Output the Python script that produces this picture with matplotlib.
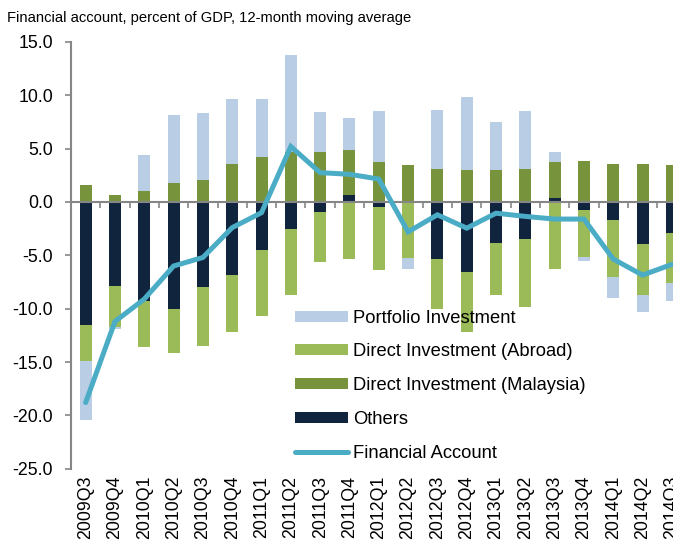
import numpy as np
import matplotlib.pyplot as plt

plt.rcParams['font.family'] = ['Liberation Sans', 'DejaVu Sans']

quarters = ['2009Q3', '2009Q4', '2010Q1', '2010Q2', '2010Q3', '2010Q4', '2011Q1',
            '2011Q2', '2011Q3', '2011Q4', '2012Q1', '2012Q2', '2012Q3', '2012Q4',
            '2013Q1', '2013Q2', '2013Q3', '2013Q4', '2014Q1', '2014Q2', '2014Q3']

others = [-11.5, -7.9, -9.3, -10.0, -8.0, -6.8, -4.5, -2.5, -0.9, 0.7, -0.5,
          0.0, -5.3, -6.6, -3.8, -3.5, 0.4, -0.75, -1.7, -3.9, -2.9]
di_malaysia = [1.6, 0.7, 1.05, 1.8, 2.1, 3.6, 4.25, 4.7, 4.7, 4.2, 3.75,
               3.5, 3.1, 3.0, 3.0, 3.1, 3.35, 3.85, 3.55, 3.6, 3.45]
di_abroad = [-3.4, -3.8, -4.3, -4.2, -5.5, -5.35, -6.2, -6.2, -4.7, -5.3, -5.9,
             -5.25, -4.7, -5.6, -4.95, -6.35, -6.25, -4.45, -5.3, -4.85, -4.7]
portfolio = [-5.5, -0.25, 3.35, 6.4, 6.25, 6.1, 5.4, 9.1, 3.7, 2.95, 4.8,
             -1.05, 5.5, 6.8, 4.5, 5.4, 0.9, -0.3, -2.0, -1.6, -1.7]
fin_account = [-18.8, -11.2, -9.1, -6.0, -5.2, -2.4, -1.0, 5.2, 2.75, 2.6, 2.15,
               -2.8, -1.2, -2.45, -1.05, -1.35, -1.6, -1.6, -5.35, -6.85, -5.85]

fig = plt.figure(figsize=(6.73, 5.46), dpi=100)
ax = fig.add_axes([0.1055, 0.1416, 0.9146, 0.7815])

x = np.arange(len(quarters))
pos_bottom = np.zeros(len(x))
neg_bottom = np.zeros(len(x))

# stack from zero outward: others, DI Malaysia, DI abroad, portfolio
series = [(others, '#10243E', 'Others'),
          (di_malaysia, '#77933C', 'Direct Investment (Malaysia)'),
          (di_abroad, '#9BBB59', 'Direct Investment (Abroad)'),
          (portfolio, '#B9CDE5', 'Portfolio Investment')]
handles = {}
for vals, col, lab in series:
    v = np.array(vals)
    bottom = np.where(v >= 0, pos_bottom, neg_bottom)
    b = ax.bar(x, v, 0.41, bottom=bottom, color=col, label=lab, zorder=2)
    handles[lab] = b
    pos_bottom = pos_bottom + np.where(v > 0, v, 0)
    neg_bottom = neg_bottom + np.where(v < 0, v, 0)

ln, = ax.plot(x, fin_account, color='#4BACC6', lw=3.6, solid_capstyle='round',
              solid_joinstyle='miter', label='Financial Account', zorder=4)

ax.set_xlim(-0.5, len(x) - 0.5)
ax.set_ylim(-25, 15)
ax.set_yticks(np.arange(-25, 16, 5))
ax.set_yticklabels(['%.1f' % t for t in np.arange(-25, 16, 5)], fontsize=12.8)

gray = '#868686'
for s in ['top', 'right']:
    ax.spines[s].set_visible(False)
ax.spines['left'].set_color(gray)
ax.spines['left'].set_linewidth(1.5)
ax.spines['bottom'].set_position(('data', 0))
ax.spines['bottom'].set_color(gray)
ax.spines['bottom'].set_linewidth(1.5)
ax.spines['bottom'].set_zorder(3)
ax.set_xticks(np.arange(len(x) + 1) - 0.5)
ax.set_xticklabels([])
ax.tick_params(axis='x', direction='out', length=4, width=1.2, color=gray)
ax.tick_params(axis='y', direction='out', length=4, width=1.2, color=gray, pad=9)

sec = ax.secondary_xaxis(0.0)
sec.set_xticks(x)
sec.set_xticklabels(quarters, rotation=90, fontsize=12.8)
sec.tick_params(length=0, pad=5)
sec.spines['bottom'].set_visible(False)

fig.text(0.011, 0.967, 'Financial account, percent of GDP, 12-month moving average',
         fontsize=10.6, va='center', ha='left')

order = ['Portfolio Investment', 'Direct Investment (Abroad)',
         'Direct Investment (Malaysia)', 'Others']
leg = ax.legend([handles[k] for k in order] + [ln], order + ['Financial Account'],
                loc='upper left', bbox_to_anchor=(0.3646, 0.373), frameon=False,
                fontsize=13.2, handlelength=2.85, handleheight=0.55,
                labelspacing=0.92, handletextpad=0.3, borderaxespad=0,
                borderpad=0)

fig.savefig('out.png', dpi=100)
